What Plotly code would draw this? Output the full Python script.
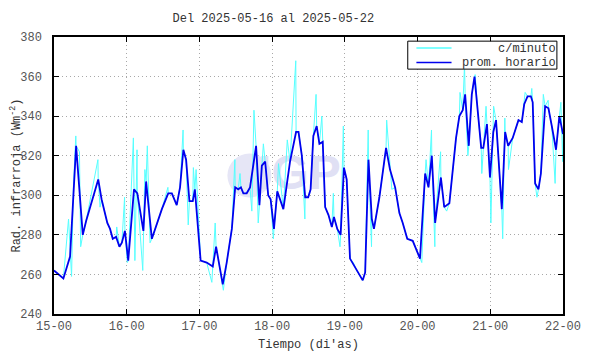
import pandas as pd
import plotly.graph_objects as go

# Hourly average (hours since 2025-05-15 00:00, value W/m2)
hourly_h = [0.0, 3.1, 5.3, 7.3, 9.5, 10.6, 14.6, 15.7, 17.6, 18.5, 19.4, 20.5, 21.6, 22.4, 23.4,
            24.5, 26.4, 27.5, 29.5, 30.4, 32.3, 35.6, 37.7, 38.9, 40.5, 41.6, 42.7, 43.6, 44.7, 45.8, 46.5,
            48.4, 50.4, 52.4, 53.5, 55.7, 57.0, 58.7, 59.8, 60.8, 61.7, 62.5, 63.6, 64.7, 66.7, 67.8, 68.6,
            69.7, 70.7, 71.5, 72.6, 73.7, 75.7, 77.9, 79.9, 80.7, 81.8, 82.9, 83.9, 84.7, 85.6, 86.7, 87.6,
            88.7, 89.5, 90.6, 91.7, 92.4, 93.5, 94.6, 95.7, 96.6, 97.7, 99.9, 101.9, 102.7, 103.8, 104.9,
            105.6, 107.4, 109.6, 110.9, 112.6, 114.0, 115.1, 116.6, 118.4, 120.8, 122.5, 123.6, 124.7,
            125.8, 127.7, 128.8, 130.5, 132.7, 133.8, 134.9, 135.7, 136.9, 137.9, 138.8, 139.8, 141.0,
            141.7, 142.9, 143.9, 145.0, 145.9, 147.8, 148.9, 149.9, 151.4, 153.3, 154.4, 155.2, 156.3,
            157.4, 158.0, 158.8, 159.9, 160.7, 162.1, 163.2, 164.3, 165.7, 166.8, 168.0]
hourly_v = [262, 258, 269, 325, 280, 287, 308, 298, 286, 283, 278, 279, 274, 276, 282,
            267, 303, 301, 282, 307, 278, 293, 301, 301, 295, 304, 323, 318, 297, 297, 303,
            267, 266, 264, 274, 255, 266, 283, 304, 303, 304, 301, 301, 304, 325, 295, 315,
            317, 300, 298, 283, 302, 293, 317, 332, 332, 320, 299, 299, 303, 330, 335, 326,
            327, 294, 290, 284, 289, 283, 280, 314, 308, 268, 262, 257, 261, 318, 288,
            283, 299, 324, 313, 304, 291, 286, 278, 277, 268, 311, 304, 320,
            286, 309, 294, 296, 329, 340, 343, 351, 325, 351, 360, 343, 324,
            324, 336, 309, 332, 338, 293, 332, 325, 329, 338, 337, 346, 350,
            350, 347, 306, 303, 311, 345, 344, 335, 323, 340, 331]

# Per-minute extremes (hours, value)
minute_h = [4.8, 5.8, 6.4, 7.2, 8.4, 8.8, 14.5, 15.2, 20.7, 23.3, 24.2, 26.2, 26.7, 27.4, 29.3,
            30.0, 30.8, 31.7, 37.6, 42.6, 44.3, 46.0, 46.9, 52.1, 53.2, 55.9, 59.7, 61.4, 65.3,
            66.0, 67.4, 69.1, 72.4, 74.1, 77.0, 79.8, 82.8, 86.5, 88.4, 92.2, 94.4, 95.5, 98.8,
            103.7, 104.8, 109.8, 111.5, 121.4, 122.8, 124.6, 125.7, 127.6, 129.6, 134.0, 135.5,
            136.6, 139.0, 141.2, 142.6, 144.2, 145.1, 148.1, 148.8, 150.0, 155.5, 157.7, 159.4,
            161.5, 163.1, 165.4, 167.3, 167.9]
minute_v = [288, 259, 304, 330, 322, 274, 318, 294, 284, 299, 266, 329, 267, 323, 262,
            313, 325, 276, 304, 333, 285, 314, 313, 256, 286, 252, 318, 311, 292,
            343, 286, 326, 278, 316, 328, 368, 288, 351, 340, 301, 274, 335, 266,
            333, 274, 338, 303, 266, 318, 333, 274, 322, 292, 352, 366,
            320, 361, 311, 345, 286, 345, 278, 339, 313, 352, 354, 299,
            351, 348, 306, 347, 317]

series_names = ["c/minuto", "prom. horario"]
series_colors = ["#55ffff", "#0000ee"]

base = pd.Timestamp("2025-05-15 00:00")
mins = sorted(list(zip(hourly_h, hourly_v)) + list(zip(minute_h, minute_v)))
x_min = [base + pd.Timedelta(hours=h) for h, _ in mins]
y_min = [v for _, v in mins]
x_hr = [base + pd.Timedelta(hours=h) for h in hourly_h]

font = "Liberation Mono, Courier New, monospace"
txt = "#333333"

fig = go.Figure()
# faint watermark (logo + letters) behind the data
fig.add_trace(go.Scatter(
    x=[base + pd.Timedelta(hours=64.5)], y=[310], mode="markers",
    marker=dict(size=44, color="#e6e6f6", line=dict(width=0)),
    showlegend=False, hoverinfo="skip"))
fig.add_trace(go.Scatter(
    x=[base + pd.Timedelta(hours=81)], y=[309], mode="text", text=["<b>IGP</b>"],
    textfont=dict(size=48, color="#e0e0f4", family="Arial"),
    showlegend=False, hoverinfo="skip"))
fig.add_trace(go.Scatter(x=x_min, y=y_min, mode="lines", name=series_names[0],
                         line=dict(color=series_colors[0], width=1), showlegend=False))
fig.add_trace(go.Scatter(x=x_hr, y=hourly_v, mode="lines", name=series_names[1],
                         line=dict(color=series_colors[1], width=1.8), showlegend=False))

axis_common = dict(showline=True, linecolor="black", linewidth=1.5, mirror="ticks",
                   ticks="inside", ticklen=5, tickcolor="black", automargin=False,
                   showgrid=True, gridcolor="#a8a8a8", griddash="1px,3px", gridwidth=1,
                   zeroline=False, tickfont=dict(family=font, size=12, color="#555555"))

# Manual legend box (paper coordinates) to match the compact reference legend
shapes = [dict(type="rect", xref="paper", yref="paper", x0=0.695, x1=0.988, y0=0.884, y1=0.985,
               line=dict(color="black", width=1), fillcolor="white", layer="above")]
annots = []
rows_y = [0.960, 0.908]
for name, col, ry in zip(series_names, series_colors, rows_y):
    shapes.append(dict(type="line", xref="paper", yref="paper", x0=0.712, x1=0.781, y0=ry, y1=ry,
                       line=dict(color=col, width=1.5), layer="above"))
    annots.append(dict(xref="paper", yref="paper", x=0.988, y=ry, xanchor="right", yanchor="middle",
                       text=name, showarrow=False, height=13, borderpad=0,
                       font=dict(family=font, size=12, color=txt)))

fig.update_layout(
    width=582, height=346,
    margin=dict(l=46, r=27, t=29, b=40),
    paper_bgcolor="white", plot_bgcolor="white",
    title=dict(text="Del 2025-05-16 al 2025-05-22", x=0.456, xanchor="center",
               y=0.971, yanchor="middle", font=dict(family=font, size=12, color=txt)),
    font=dict(family=font, size=12, color=txt),
    xaxis=dict(range=[base, base + pd.Timedelta(days=7)], dtick=86400000, tickformat="%d-%H",
               title=dict(text="Tiempo (di'as)", standoff=6, font=dict(family=font, size=12, color=txt)),
               **axis_common),
    yaxis=dict(range=[240, 380], dtick=20, ticklabelstandoff=8,
               title=dict(text="Rad. infrarroja (Wm<sup>-2</sup>)", standoff=8,
                          font=dict(family=font, size=12, color=txt)),
               **axis_common),
    shapes=shapes,
    annotations=annots,
    showlegend=False,
)

fig.write_html("out.html")
